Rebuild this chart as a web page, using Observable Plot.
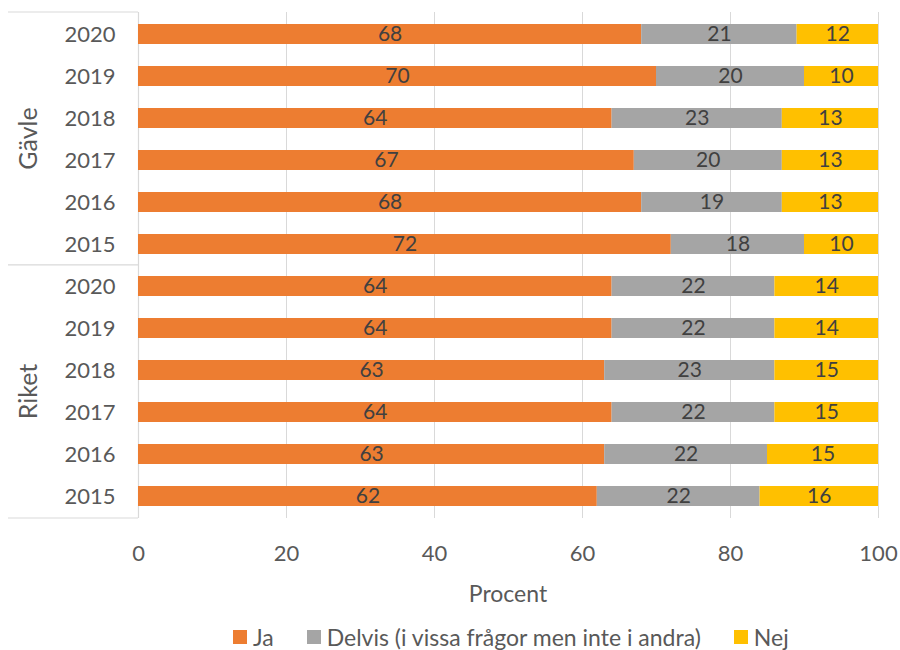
<!DOCTYPE html>
<html>
<head>
<meta charset="utf-8">
<script src="https://cdn.jsdelivr.net/npm/d3@7"></script>
<script src="https://cdn.jsdelivr.net/npm/@observablehq/plot@0.6"></script>
<style>
  body { margin: 0; background: #fff; font-family: Lato, "Open Sans", sans-serif; }
  #legend { display: flex; align-items: center; padding-left: 233px; height: 44px; font-size: 23px; color: #595959; }
  .item { display: flex; align-items: center; margin-right: 33px; }
  .sw { width: 14px; height: 14px; margin-right: 6px; }
</style>
</head>
<body>
<div id="chart"></div>
<div id="legend"></div>
<script>
const groups = ["Gävle", "Riket"];
const years = ["2020", "2019", "2018", "2017", "2016", "2015"];
const categories = ["Ja", "Delvis (i vissa frågor men inte i andra)", "Nej"];
const colors = ["#ED7D31", "#A5A5A5", "#FFC000"];
const xLabel = "Procent";

const gavleJa = [68, 70, 64, 67, 68, 72];
const gavleDelvis = [21, 20, 23, 20, 19, 18];
const gavleNej = [12, 10, 13, 13, 13, 10];
const riketJa = [64, 64, 63, 64, 63, 62];
const riketDelvis = [22, 22, 23, 22, 22, 22];
const riketNej = [14, 14, 15, 15, 15, 16];

const xTicks = [0, 20, 40, 60, 80, 100];

const series = {
  "Gävle": [gavleJa, gavleDelvis, gavleNej],
  "Riket": [riketJa, riketDelvis, riketNej]
};

const rows = [];
const keys = [];
for (const g of groups) {
  years.forEach((yr, i) => {
    const key = g + " " + yr;
    keys.push(key);
    let acc = 0;
    categories.forEach((c, j) => {
      const v = series[g][j][i];
      const x1 = acc, x2 = acc + v;
      acc = x2;
      rows.push({key, group: g, year: yr, cat: c, value: v, x1, x2,
        mid: (Math.min(x1, 100) + Math.min(x2, 100)) / 2});
    });
  });
}

const W = 900, H = 615;
const chart = Plot.plot({
  width: W,
  height: H,
  marginLeft: 138,
  marginRight: 22,
  marginTop: 12,
  marginBottom: H - 518,
  style: { fontFamily: "Lato, 'Open Sans', sans-serif", background: "#fff" },
  x: { domain: [0, 100] },
  y: { domain: keys, paddingInner: 0.52, paddingOuter: 0.26 },
  color: { domain: categories, range: colors },
  marks: [
    Plot.gridX(xTicks.slice(1), { stroke: "#d9d9d9", strokeOpacity: 1, strokeWidth: 1 }),
    Plot.ruleX([0], { stroke: "#d9d9d9", strokeWidth: 1.2 }),
    Plot.barX(rows, { x1: "x1", x2: "x2", y: "key", fill: "cat", clip: true }),
    Plot.text(rows, { x: "mid", y: "key", text: d => String(d.value), fill: "#404040", fontSize: 21 }),
    Plot.axisY({ tickSize: 0, tickPadding: 23, tickFormat: d => d.split(" ")[1], fontSize: 22, color: "#595959", label: null }),
    Plot.axisX({ ticks: xTicks, tickSize: 0, tickPadding: 27, fontSize: 22, color: "#595959", label: null })
  ]
});

// separator lines, group labels and axis title, placed from the scales
const ys = chart.scale("y");
const xs = chart.scale("x");
const svg = d3.select(chart);
const yTop = ys.range[0], yBottom = ys.range[1];
const pIn = ys.paddingInner ?? 0.52, pOut = ys.paddingOuter ?? 0.26;
const stepY = ys.step ?? (yBottom - yTop) / (keys.length - pIn + 2 * pOut);
const lastG = ys.apply(groups[0] + " " + years[years.length - 1]);
const yMid = lastG + ys.bandwidth + stepY * pIn / 2;
const lines = [yTop, yMid, yBottom];
const gl = svg.append("g").attr("stroke", "#d9d9d9").attr("stroke-width", 1.2);
for (const ly of lines) gl.append("line").attr("x1", 8).attr("x2", 138).attr("y1", ly).attr("y2", ly);
const centers = [(yTop + yMid) / 2, (yMid + yBottom) / 2];
groups.forEach((g, i) => {
  svg.append("text")
    .attr("transform", `translate(28,${centers[i]}) rotate(-90)`)
    .attr("text-anchor", "middle").attr("dy", "0.35em")
    .attr("fill", "#595959").attr("font-size", 25)
    .text(g);
});
const xMidPx = (xs.range[0] + xs.range[1]) / 2;
svg.append("text")
  .attr("x", xMidPx).attr("y", yBottom + 76).attr("dy", "0.35em")
  .attr("text-anchor", "middle").attr("fill", "#595959").attr("font-size", 23)
  .text(xLabel);

document.getElementById("chart").appendChild(chart);

const legend = document.getElementById("legend");
categories.forEach((c, i) => {
  const it = document.createElement("div");
  it.className = "item";
  const sw = document.createElement("span");
  sw.className = "sw"; sw.style.background = colors[i];
  const t = document.createElement("span");
  t.textContent = c;
  it.appendChild(sw); it.appendChild(t);
  legend.appendChild(it);
});
</script>
</body>
</html>
